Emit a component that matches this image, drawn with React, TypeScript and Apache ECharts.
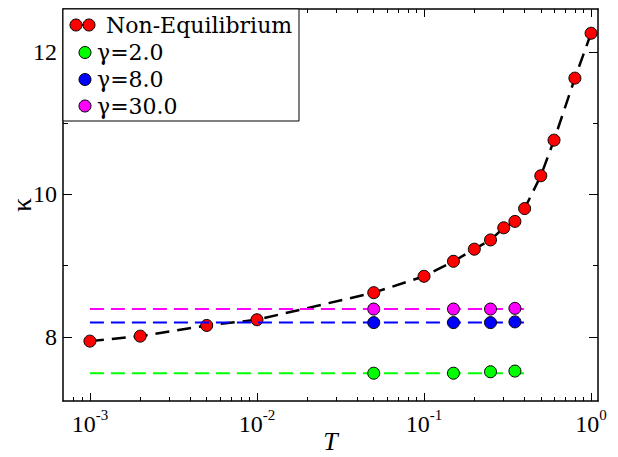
import React, { useEffect, useRef } from "react";
import * as echarts from "echarts";

// Non-equilibrium data
const nonEqT = [0.001, 0.002, 0.005, 0.01, 0.05, 0.1, 0.15, 0.2, 0.25, 0.3, 0.35, 0.4, 0.5, 0.6, 0.8, 1.0];
const nonEqKappa = [7.94, 8.01, 8.16, 8.24, 8.62, 8.85, 9.06, 9.23, 9.36, 9.53, 9.62, 9.8, 10.26, 10.76, 11.63, 12.26];

// Equilibrium (gamma) data
const gammaT = [0.05, 0.15, 0.25, 0.35];
const gamma2 = [7.49, 7.49, 7.51, 7.52];
const gamma8 = [8.2, 8.2, 8.2, 8.21];
const gamma30 = [8.39, 8.39, 8.39, 8.4];
const gammaLineT = [0.001, 0.4];
const gammaLevels = [7.49, 8.2, 8.39];
const gammaNames = ["γ=2.0", "γ=8.0", "γ=30.0"];
const gammaColors = ["#00ff00", "#0000ff", "#ff00ff"];

// Ticks
const xMajor = [0.001, 0.01, 0.1, 1];
const xMinor = [
  0.0008, 0.0009,
  0.002, 0.003, 0.004, 0.005, 0.006, 0.007, 0.008, 0.009,
  0.02, 0.03, 0.04, 0.05, 0.06, 0.07, 0.08, 0.09,
  0.2, 0.3, 0.4, 0.5, 0.6, 0.7, 0.8, 0.9,
];
const yMajor = [8, 10, 12];
const yMinor = [9, 11];

export default function App() {
  const ref = useRef<HTMLDivElement>(null);
  useEffect(() => {
    const chart = echarts.init(ref.current!, null, { renderer: "svg" });
    const serif = "Liberation Serif, Times New Roman, serif";
    const legendFont = "DejaVu Serif, serif";
    const black = "#000";

    const xBase = {
      type: "log",
      logBase: 10,
      min: 6.9e-4,
      max: 1.1,
      splitLine: { show: false },
      axisLabel: { show: false },
    };
    const yBase = {
      type: "value",
      min: 7.1,
      max: 12.6,
      splitLine: { show: false },
      axisLabel: { show: false },
    };
    const lineOn = { show: true, lineStyle: { color: black, width: 1.5 } };
    const lineOff = { show: false };
    const tick = (vals: number[], len: number) => ({
      show: true,
      inside: true,
      length: len,
      customValues: vals,
      lineStyle: { color: black, width: 1 },
    });

    const allGammaSeries = [gamma2, gamma8, gamma30];

    const series: any[] = [
      {
        name: "Non-Equilibrium",
        type: "line",
        xAxisIndex: 0,
        yAxisIndex: 0,
        data: nonEqT.map((t, i) => [t, nonEqKappa[i]]),
        symbol: "circle",
        symbolSize: 12,
        showSymbol: true,
        lineStyle: { color: black, width: 2.5, type: [14, 8] },
        itemStyle: { color: "#ff0000", borderColor: black, borderWidth: 1 },
        z: 2,
      },
    ];
    gammaNames.forEach((nm, k) => {
      series.push({
        name: nm + " line",
        type: "line",
        xAxisIndex: 0,
        yAxisIndex: 0,
        data: gammaLineT.map((t) => [t, gammaLevels[k]]),
        showSymbol: false,
        symbol: "none",
        lineStyle: { color: gammaColors[k], width: 2, type: [14, 7] },
        z: 3,
      });
      series.push({
        name: nm,
        type: "scatter",
        xAxisIndex: 0,
        yAxisIndex: 0,
        data: gammaT.map((t, i) => [t, allGammaSeries[k][i]]),
        symbol: "circle",
        symbolSize: 12,
        itemStyle: { color: gammaColors[k], borderColor: black, borderWidth: 1, opacity: 1 },
        z: 4,
      });
    });

    const legendRows = [25, 52.5, 79.5, 106];
    const graphic: any[] = [
      {
        type: "rect",
        shape: { x: 63, y: 9, width: 236, height: 112 },
        style: { fill: "#fff", stroke: black, lineWidth: 1 },
        z: 100,
      },
      {
        type: "line",
        shape: { x1: 76, y1: legendRows[0], x2: 89, y2: legendRows[0] },
        style: { stroke: black, lineWidth: 1.5 },
        z: 101,
      },
      {
        type: "circle",
        shape: { cx: 76, cy: legendRows[0], r: 6 },
        style: { fill: "#ff0000", stroke: black, lineWidth: 1 },
        z: 102,
      },
      {
        type: "circle",
        shape: { cx: 89, cy: legendRows[0], r: 6 },
        style: { fill: "#ff0000", stroke: black, lineWidth: 1 },
        z: 102,
      },
      {
        type: "text",
        x: 106,
        y: legendRows[0],
        style: {
          text: "Non-Equilibrium",
          fontFamily: legendFont,
          fontSize: 22,
          fill: black,
          verticalAlign: "middle",
        },
        z: 102,
      },
    ];
    gammaNames.forEach((nm, k) => {
      const y = legendRows[k + 1];
      graphic.push({
        type: "circle",
        shape: { cx: 85, cy: y, r: 6 },
        style: { fill: gammaColors[k], stroke: black, lineWidth: 1 },
        z: 102,
      });
      graphic.push({
        type: "text",
        x: 97,
        y,
        style: {
          text: nm,
          fontFamily: legendFont,
          fontSize: 22,
          fill: black,
          verticalAlign: "middle",
        },
        z: 102,
      });
    });

    chart.setOption({
      animation: false,
      backgroundColor: "#fff",
      grid: {
        left: 63,
        top: 9,
        right: 20,
        bottom: 56,
        containLabel: false,
        outerBoundsMode: "none",
      },
      xAxis: [
        {
          ...xBase,
          position: "bottom",
          axisLine: lineOn,
          axisTick: tick(xMajor, 8),
          axisLabel: {
            show: true,
            customValues: xMajor,
            margin: 6,
            formatter: (v: number) => `{b|10}{s|${Math.round(Math.log10(v))}}`,
            rich: {
              b: { fontFamily: serif, fontSize: 24, color: black, lineHeight: 34 },
              s: { fontFamily: serif, fontSize: 15, color: black, lineHeight: 12, verticalAlign: "top" },
            },
          },
          name: "T",
          nameLocation: "middle",
          nameGap: 40,
          nameMoveOverlap: false,
          nameTextStyle: {
            fontFamily: serif,
            fontStyle: "italic",
            fontSize: 26,
            lineHeight: 22,
            color: black,
            verticalAlign: "middle",
          },
        },
        { ...xBase, position: "bottom", axisLine: lineOff, axisTick: tick(xMinor, 4) },
        { ...xBase, position: "top", axisLine: lineOn, axisTick: tick(xMajor, 8) },
        { ...xBase, position: "top", axisLine: lineOff, axisTick: tick(xMinor, 4) },
      ],
      yAxis: [
        {
          ...yBase,
          position: "left",
          axisLine: lineOn,
          axisTick: tick(yMajor, 9),
          axisLabel: {
            show: true,
            customValues: yMajor,
            margin: 6,
            fontFamily: serif,
            fontSize: 24,
            color: black,
          },
          name: "κ",
          nameLocation: "middle",
          nameGap: 28,
          nameMoveOverlap: false,
          nameTextStyle: { fontFamily: serif, fontSize: 28, color: black },
        },
        { ...yBase, position: "left", axisLine: lineOff, axisTick: tick(yMinor, 5) },
        { ...yBase, position: "right", axisLine: lineOn, axisTick: tick(yMajor, 9) },
        { ...yBase, position: "right", axisLine: lineOff, axisTick: tick(yMinor, 5) },
      ],
      series,
      graphic,
    });
    return () => chart.dispose();
  }, []);
  return (
    <div
      ref={ref}
      style={{ position: "absolute", left: 0, top: 0, width: 618, height: 457, background: "#fff" }}
    />
  );
}
